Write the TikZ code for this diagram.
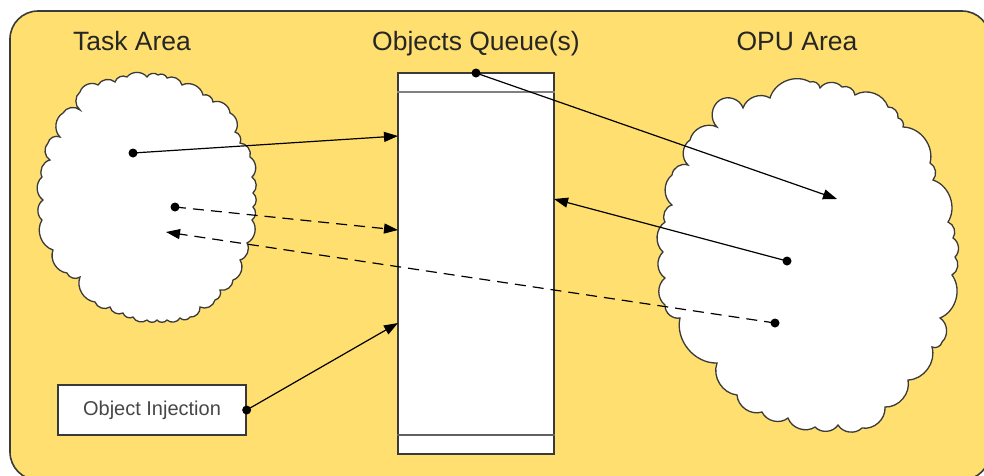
\documentclass[tikz,border=0pt]{standalone}
\usepackage{fontspec}
\setmainfont{Liberation Sans}
\usetikzlibrary{arrows.meta}
\definecolor{panel}{HTML}{FFDF6F}
\definecolor{edge}{HTML}{3A3A3A}
\definecolor{ink}{HTML}{262626}
\tikzset{
  area/.style={draw=edge, fill=white, line width=1.3, bend left=52},
  title/.style={anchor=base, text=ink, font=\fontsize{26.5}{30}\selectfont},
  pin/.style={circle, fill=black, inner sep=0, minimum size=9},
  link/.style={line width=1.2, -{Triangle[length=14,width=10]}},
  dashlink/.style={link, dash pattern=on 11 off 7},
}
\begin{document}
\begin{tikzpicture}[x=1pt,y=-1pt]
\useasboundingbox (0,0) rectangle (984,475);
% panel
\begin{scope}
  \clip (0,0) rectangle (984,475);
  \draw[fill=panel, draw=edge, line width=1.6, rounded corners=28] (10,11) rectangle (990,480);
\end{scope}
% headings
\node[title] (tasktitle) at (132,50) {Task Area};
\node[title] (queuetitle) at (476,50) {Objects Queue(s)};
\node[title] (oputitle) at (797,50) {OPU Area};
% task area cloud (scalloped outline, clockwise)
\draw[area] (80,110) to (80,92) to (98,85) to (115,82) to (127,77) to (147,77)
  to (158,75) to (167,78) to (182,85) to (203,95) to (213,102) to (230,113)
  to (235,132) to (240,143) to (250,157) to (252,177) to (253,193) to (253,207)
  to (252,220) to (247,243) to (240,260) to (233,280) to (220,290) to (215,300)
  to (200,307) to (190,317) to (180,318) to (167,320) to (157,320) to (147,320)
  to (133,317) to (123,313) to (110,307) to (95,302) to (80,277) to (67,273)
  to (53,250) to (42,220) to (43,200) to (42,177) to (50,160) to (48,143)
  to (60,137) to (63,113) to (80,110) -- cycle;
% OPU area cloud
\draw[area] (690,140) to (717,127) to (720,100) to (743,108) to (770,98)
  to (810,82) to (820,88) to (842,87) to (855,95) to (888,107) to (898,118)
  to (903,127) to (930,163) to (933,180) to (948,222) to (953,238) to (955,257)
  to (952,275) to (940,318) to (942,342) to (932,347) to (908,380) to (885,407)
  to (862,428) to (838,425) to (815,427) to (788,418) to (762,412) to (737,395)
  to (717,363) to (680,318) to (665,305) to (665,278) to (663,252) to (665,222)
  to (672,205) to (672,175) to (688,165) to (690,140) -- cycle;
% queue
\node[draw=edge, fill=white, line width=1.5, minimum width=156, minimum height=381, inner sep=0] (queue) at (476,263.5) {};
\draw[draw=gray, line width=2] (queue.west |- 0,92) -- (queue.east |- 0,92);
\draw[draw=edge!80, line width=1.6] (queue.west |- 0,435) -- (queue.east |- 0,435);
% injection box
\node[draw=edge, fill=white, line width=1.3, minimum width=188, minimum height=50, inner sep=0,
      text=ink!85, font=\fontsize{20}{24}\selectfont] (inject) at (152,410) {Object Injection};
% anchor dots
\node[pin] (t1) at (133,153) {};
\node[pin] (t2) at (175,207) {};
\node[pin] (q1) at (476,73) {};
\node[pin] (o1) at (787,261) {};
\node[pin] (o2) at (775,323) {};
\node[pin] (i1) at (inject.east) {};
% arrow tips
\coordinate (qa) at (398,136);
\coordinate (qb) at (398,230);
\coordinate (qc) at (398,323);
\coordinate (qd) at (554,199);
\coordinate (ta) at (166,232);
\coordinate (oa) at (837,199);
% connectors
\draw[link] (t1.center) -- (qa);
\draw[dashlink] (t2.center) -- (qb);
\draw[dashlink] (o2.center) -- (ta);
\draw[link] (i1.center) -- (qc);
\draw[link] (q1.center) -- (oa);
\draw[link] (o1.center) -- (qd);
\end{tikzpicture}
\end{document}
